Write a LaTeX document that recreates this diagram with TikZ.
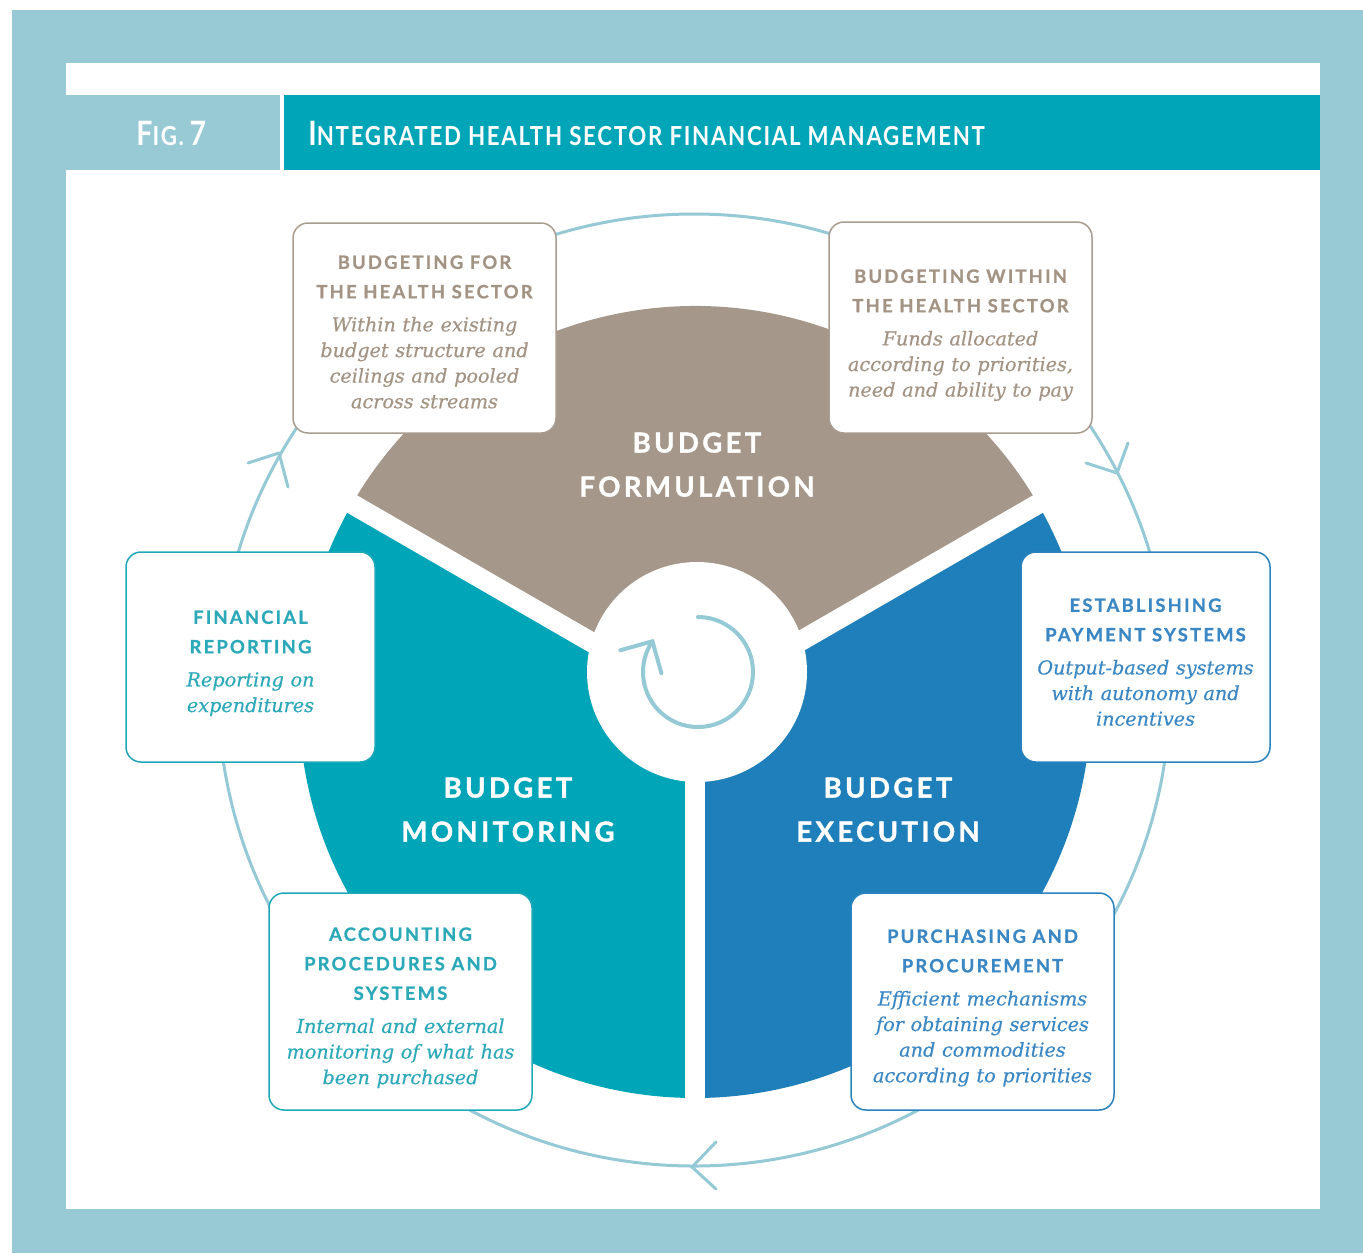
\documentclass[tikz,border=0pt]{standalone}
\usepackage{fontspec}
\newfontfamily\capsfont[LetterSpace=12,FakeBold=0.8]{Lato}
\newfontfamily\segfont[LetterSpace=12,FakeBold=1.2]{Lato}
\newfontfamily\headfont[FakeStretch=0.85,LetterSpace=6.5]{Lato}
\newfontfamily\bodyfamily[FakeBold=0.4]{DejaVu Serif}
\definecolor{frame}{HTML}{98CAD5}
\definecolor{headteal}{HTML}{00A6B8}
\definecolor{segbrown}{HTML}{A5978A}
\definecolor{segteal}{HTML}{00A6B8}
\definecolor{segblue}{HTML}{1F7FBA}
\definecolor{ringc}{HTML}{95C9D5}
\definecolor{browntxt}{HTML}{A39383}
\definecolor{tealtxt}{HTML}{2CA9B9}
\definecolor{bluetxt}{HTML}{3A87C4}
\definecolor{brownline}{HTML}{A99C8F}
\definecolor{tealline}{HTML}{1FA8B8}
\definecolor{blueline}{HTML}{2A82BF}
\newcommand\ttl{\capsfont\bfseries\fontsize{9.2}{14.75}\selectfont}
\newcommand\bdy{\bodyfamily\mdseries\itshape\fontsize{9.6}{12.8}\selectfont}
\newcommand\tgap{\par\vspace{3.75pt}}
\newcommand\hbig{\fontsize{16.8}{18}\selectfont}
\newcommand\hsmall{\fontsize{13.1}{15}\selectfont}
\begin{document}
\begin{tikzpicture}[x=0.5pt,y=-0.5pt,
  ringline/.style={ringc,line width=1.5pt,line cap=round,line join=round},
  cycline/.style={ringc,line width=2pt,line cap=round,line join=round},
  gap/.style={white,line width=10pt},
  boxshape/.style={draw,fill=white,line width=0.75pt,rounded corners=7.5pt,inner sep=0pt},
  txt/.style={align=center,text width=128pt,inner sep=0pt,anchor=north},
  seglab/.style={white,align=center,inner sep=0pt,anchor=north,font=\segfont\bfseries\fontsize{13.8}{22}\selectfont},
  headtxt/.style={white,inner sep=0pt,anchor=base west,font=\headfont\bfseries}
]
\useasboundingbox (0,0) rectangle (1363,1253);
% frame
\fill[white] (0,0) rectangle (1363,1253);
\fill[frame] (12,10) rectangle (1363,1253);
\fill[white] (66,63) rectangle (1320,1209);
\fill[frame] (66,95) rectangle (280,170);
\fill[headteal] (284,95) rectangle (1320,170);
\node[headtxt] (fig) at (136,145) {{\hbig F}{\hsmall IG.}\hbig\,7};
\node[headtxt] (title) at (308,145) {{\hbig I}{\hsmall NTEGRATED HEALTH SECTOR FINANCIAL MANAGEMENT}};
% outer ring
\coordinate (R) at (694,690);
\draw[ringline] (R) circle[radius=476];
\coordinate (ra) at (1117,473);
\coordinate (rb) at (692,1167);
\coordinate (rc) at (279,453);
\draw[ringline] ([shift={(-31,-10)}]ra) -- (ra) -- ([shift={(11,-30)}]ra);
\draw[ringline] ([shift={(24,-25)}]rb) -- (rb) -- ([shift={(24,22)}]rb);
\draw[ringline] ([shift={(-31,10)}]rc) -- (rc) -- ([shift={(9,34)}]rc);
% pie
\coordinate (P) at (695,702);
\fill[segbrown] (P) -- ++(210:396) arc[start angle=210,end angle=330,radius=396] -- cycle;
\fill[segteal] (P) -- ++(90:396) arc[start angle=90,end angle=210,radius=396] -- cycle;
\fill[segblue] (P) -- ++(-30:396) arc[start angle=-30,end angle=90,radius=396] -- cycle;
\draw[gap] (P) -- ++(210:420);
\draw[gap] (P) -- ++(330:420);
\draw[gap] (P) -- ++(90:420);
\coordinate (I) at (697,672);
\fill[white] (I) circle[radius=110];
% centre cycle arrow
\coordinate (C) at (698,672);
\draw[cycline] (C) ++(-90:55) arc[start angle=-90,end angle=214,radius=55] coordinate (ct);
\draw[cycline] ([shift={(-32,9)}]ct) -- (ct) -- ([shift={(9,32)}]ct);
% segment labels
\node[seglab] (form) at (697,432) {BUDGET\\FORMULATION};
\node[seglab] (moni) at (508,777) {BUDGET\\MONITORING};
\node[seglab] (exec) at (888,777) {BUDGET\\EXECUTION};
% boxes
\node[boxshape,draw=brownline,minimum width=131.5pt,minimum height=105pt] (b1) at (424.5,328) {};
\node[boxshape,draw=brownline,minimum width=131.5pt,minimum height=105.5pt] (b2) at (960.5,327.5) {};
\node[boxshape,draw=blueline,minimum width=124.5pt,minimum height=105pt] (b3) at (1145.5,657) {};
\node[boxshape,draw=tealline,minimum width=124.5pt,minimum height=105pt] (b4) at (250.5,657) {};
\node[boxshape,draw=tealline,minimum width=131.5pt,minimum height=108.5pt] (b5) at (400.5,1001.5) {};
\node[boxshape,draw=blueline,minimum width=131.5pt,minimum height=108.5pt] (b6) at (982.5,1001.5) {};
\node[txt,text=browntxt] (b1t) at (424.5,255) {\ttl BUDGETING FOR\\THE HEALTH SECTOR\tgap\bdy Within the existing\\budget structure and\\ceilings and pooled\\across streams\par};
\node[txt,text=browntxt] (b2t) at (960.5,269) {\ttl BUDGETING WITHIN\\THE HEALTH SECTOR\tgap\bdy Funds allocated\\according to priorities,\\need and ability to pay\par};
\node[txt,text=bluetxt] (b3t) at (1145.5,598) {\ttl ESTABLISHING\\PAYMENT SYSTEMS\tgap\bdy Output-based systems\\with autonomy and\\incentives\par};
\node[txt,text=tealtxt] (b4t) at (250.5,610) {\ttl FINANCIAL\\REPORTING\tgap\bdy Reporting on\\expenditures\par};
\node[txt,text=tealtxt] (b5t) at (400.5,927) {\ttl ACCOUNTING\\PROCEDURES AND\\SYSTEMS\tgap\bdy Internal and external\\monitoring of what has\\been purchased\par};
\node[txt,text=bluetxt] (b6t) at (982.5,929) {\ttl PURCHASING AND\\PROCUREMENT\tgap\bdy Efficient mechanisms\\for obtaining services\\and commodities\\according to priorities\par};
\end{tikzpicture}
\end{document}
